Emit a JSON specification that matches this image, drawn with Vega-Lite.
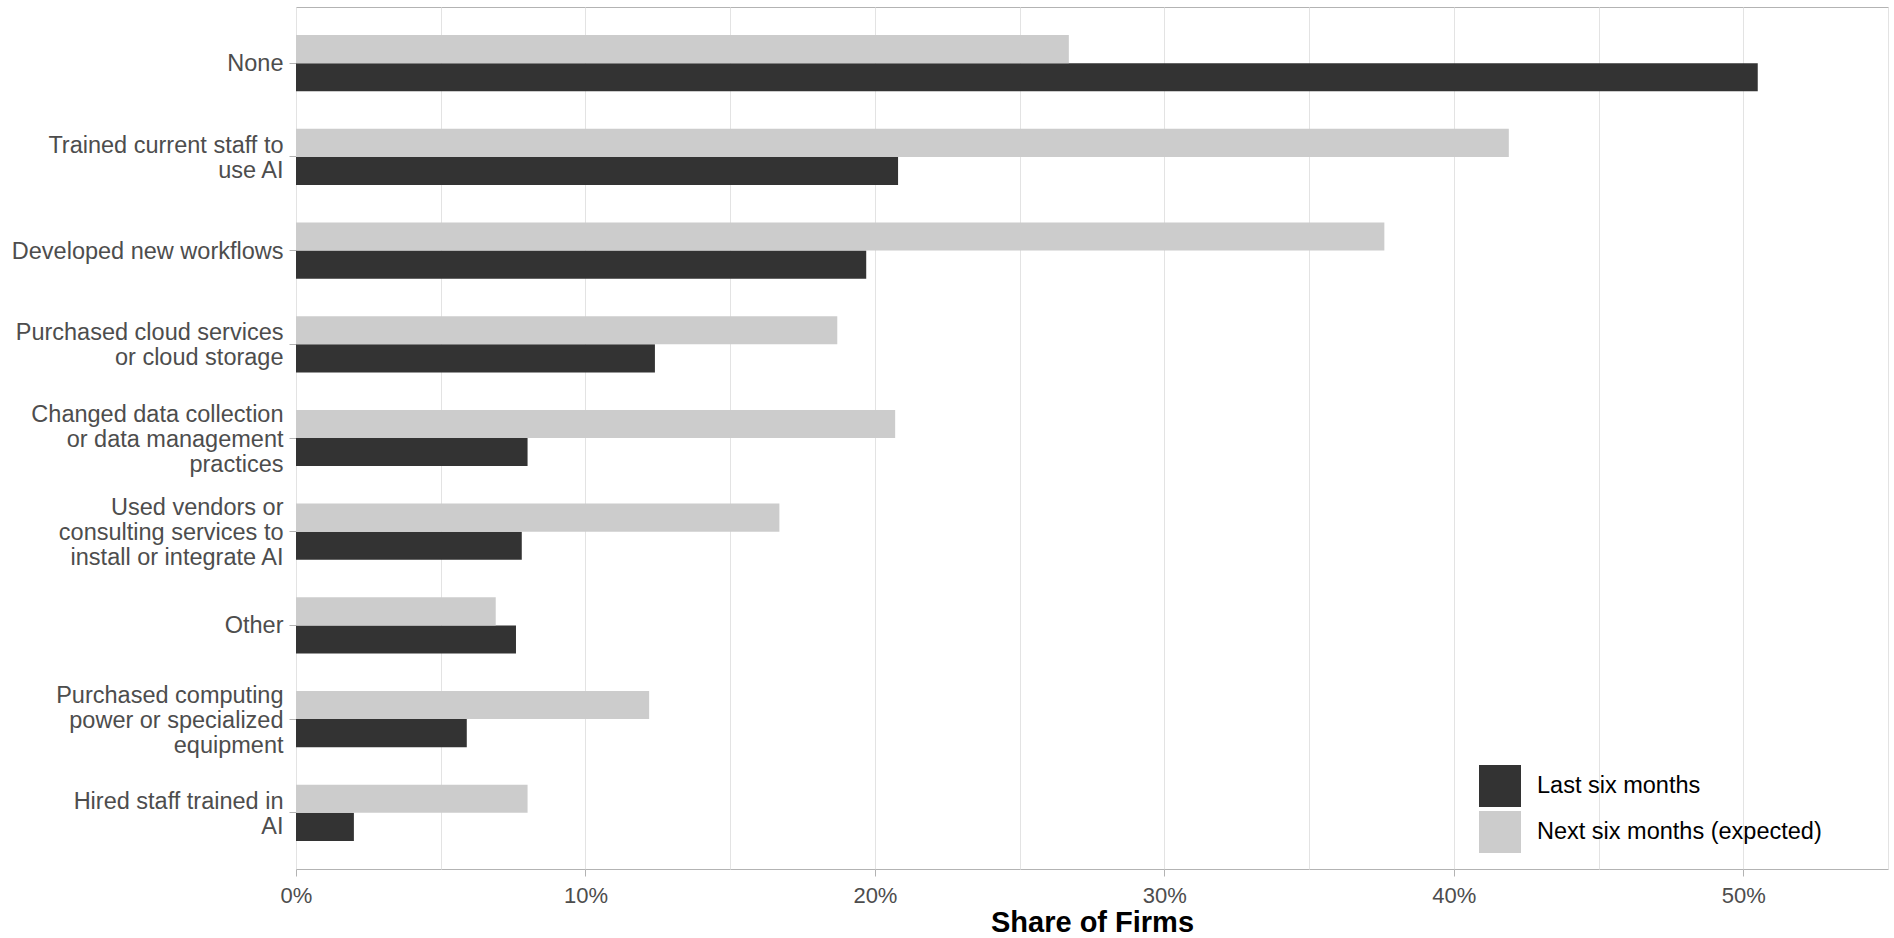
{
  "$schema": "https://vega.github.io/schema/vega-lite/v6.json",
  "width": 1592,
  "height": 862,
  "autosize": {"type": "none"},
  "padding": {"left": 296, "top": 7, "right": 6, "bottom": 69},
  "background": "white",
  "config": {
    "font": "Liberation Sans",
    "view": {"stroke": "#B3B3B3", "strokeWidth": 1}
  },
  "data": {
    "values": [
      {"action": "None", "period": "Last six months", "share": 50.5},
      {"action": "None", "period": "Next six months (expected)", "share": 26.7},
      {"action": "Trained current staff to\nuse AI", "period": "Last six months", "share": 20.8},
      {"action": "Trained current staff to\nuse AI", "period": "Next six months (expected)", "share": 41.9},
      {"action": "Developed new workflows", "period": "Last six months", "share": 19.7},
      {"action": "Developed new workflows", "period": "Next six months (expected)", "share": 37.6},
      {"action": "Purchased cloud services\nor cloud storage", "period": "Last six months", "share": 12.4},
      {"action": "Purchased cloud services\nor cloud storage", "period": "Next six months (expected)", "share": 18.7},
      {"action": "Changed data collection\nor data management\npractices", "period": "Last six months", "share": 8.0},
      {"action": "Changed data collection\nor data management\npractices", "period": "Next six months (expected)", "share": 20.7},
      {"action": "Used vendors or\nconsulting services to\ninstall or integrate AI", "period": "Last six months", "share": 7.8},
      {"action": "Used vendors or\nconsulting services to\ninstall or integrate AI", "period": "Next six months (expected)", "share": 16.7},
      {"action": "Other", "period": "Last six months", "share": 7.6},
      {"action": "Other", "period": "Next six months (expected)", "share": 6.9},
      {"action": "Purchased computing\npower or specialized\nequipment", "period": "Last six months", "share": 5.9},
      {"action": "Purchased computing\npower or specialized\nequipment", "period": "Next six months (expected)", "share": 12.2},
      {"action": "Hired staff trained in\nAI", "period": "Last six months", "share": 2.0},
      {"action": "Hired staff trained in\nAI", "period": "Next six months (expected)", "share": 8.0}
    ]
  },
  "mark": {"type": "bar"},
  "encoding": {
    "y": {
      "field": "action",
      "type": "nominal",
      "sort": [
        "None",
        "Trained current staff to\nuse AI",
        "Developed new workflows",
        "Purchased cloud services\nor cloud storage",
        "Changed data collection\nor data management\npractices",
        "Used vendors or\nconsulting services to\ninstall or integrate AI",
        "Other",
        "Purchased computing\npower or specialized\nequipment",
        "Hired staff trained in\nAI"
      ],
      "scale": {"paddingInner": 0.4, "paddingOuter": 0.3},
      "axis": {
        "title": null,
        "domain": false,
        "ticks": true,
        "tickColor": "#B3B3B3",
        "tickSize": 7,
        "labelFontSize": 23.5,
        "labelColor": "#4D4D4D",
        "labelPadding": 6,
        "labelLimit": 400,
        "labelLineHeight": 25,
        "labelOffset": {
          "condition": [
            {"test": "length(split(datum.value, '\\n')) === 3", "value": -23.5},
            {"test": "length(split(datum.value, '\\n')) === 2", "value": -11}
          ],
          "value": 1
        },
        "labelExpr": "split(datum.value, '\\n')"
      }
    },
    "yOffset": {
      "field": "period",
      "sort": ["Next six months (expected)", "Last six months"]
    },
    "x": {
      "field": "share",
      "type": "quantitative",
      "scale": {"domain": [0, 55], "nice": false},
      "axis": {
        "title": "Share of Firms",
        "titleFontSize": 29,
        "titleFontWeight": "bold",
        "titleColor": "#000000",
        "titlePadding": 2,
        "values": [0, 5, 10, 15, 20, 25, 30, 35, 40, 45, 50, 55],
        "labelExpr": "datum.value % 10 === 0 ? datum.value + '%' : ''",
        "labelOverlap": false,
        "labelFlush": false,
        "labelFontSize": 22,
        "labelColor": "#4D4D4D",
        "labelPadding": 9,
        "domain": false,
        "tickColor": "#B3B3B3",
        "tickSize": 7,
        "tickOpacity": {"condition": {"test": "datum.value % 10 !== 0", "value": 0}, "value": 1},
        "grid": true,
        "gridColor": "#E3E3E3",
        "gridWidth": 1
      }
    },
    "color": {
      "field": "period",
      "type": "nominal",
      "scale": {
        "domain": ["Last six months", "Next six months (expected)"],
        "range": ["#333333", "#CCCCCC"]
      },
      "legend": {
        "title": null,
        "orient": "none",
        "legendX": 1183,
        "legendY": 758,
        "padding": 0,
        "symbolType": "square",
        "symbolSize": 1764,
        "symbolStrokeWidth": 0,
        "symbolOpacity": 1,
        "labelFontSize": 23.5,
        "labelLimit": 500,
        "labelColor": "#000000",
        "labelOffset": 16,
        "rowPadding": 4
      }
    }
  }
}
